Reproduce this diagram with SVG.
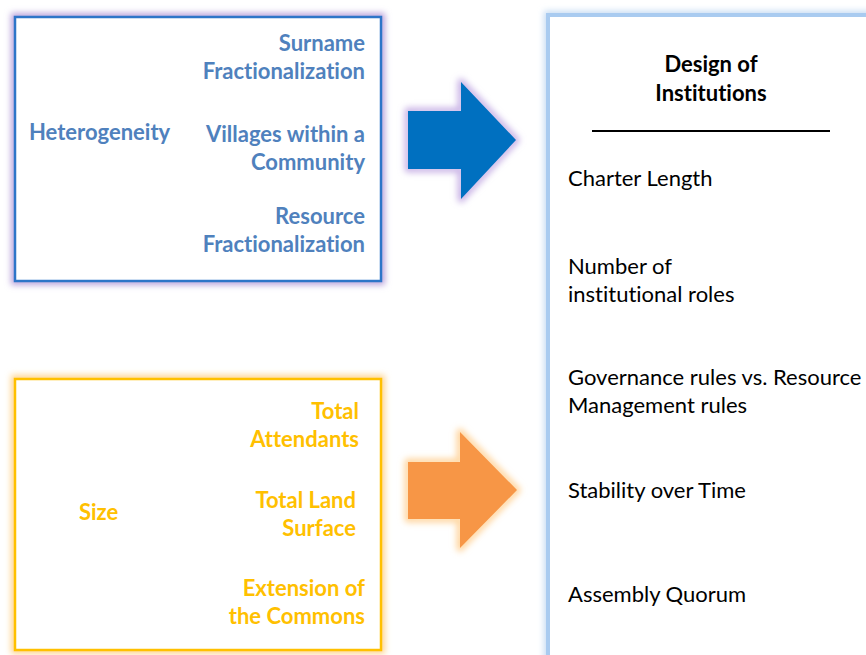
<svg xmlns="http://www.w3.org/2000/svg" width="866" height="655" viewBox="0 0 866 655">
<defs>
<filter id="glow" x="-20%" y="-20%" width="140%" height="140%"><feGaussianBlur stdDeviation="3"/></filter>
</defs>
<style>
text{font-variant-ligatures:none}
.b{font-family:Lato,"Liberation Sans",sans-serif;font-weight:bold;font-size:22px}
.blue{fill:#4F81BD}
.gold{fill:#FFC000}
.r{font-family:Lato,"Liberation Sans",sans-serif;font-size:22px;fill:#000}
.t{font-family:Lato,"Liberation Sans",sans-serif;font-weight:bold;font-size:22px;fill:#000}
</style>
<rect width="866" height="655" fill="#fff"/>
<g id="heterogeneity">
<rect x="15" y="17" width="366" height="264" fill="none" stroke="#B9A3DC" stroke-width="8" filter="url(#glow)"/>
<rect x="15" y="17" width="366" height="264" fill="#fff" stroke="#2E75C8" stroke-width="2.5"/>
<text class="b blue" x="29" y="140">Heterogeneity</text>
<g text-anchor="end">
<text class="b blue" x="365" y="51">Surname</text>
<text class="b blue" x="365" y="79">Fractionalization</text>
<text class="b blue" x="365" y="142">Villages within a</text>
<text class="b blue" x="365" y="170">Community</text>
<text class="b blue" x="365" y="224">Resource</text>
<text class="b blue" x="365" y="252">Fractionalization</text>
</g>
</g>
<g id="size">
<rect x="15" y="379" width="366" height="271" fill="none" stroke="#FFD591" stroke-width="8" filter="url(#glow)"/>
<rect x="15" y="379" width="366" height="271" fill="#fff" stroke="#FFC000" stroke-width="2.5"/>
<text class="b gold" x="79" y="520">Size</text>
<g text-anchor="end">
<text class="b gold" x="359" y="419">Total</text>
<text class="b gold" x="359" y="447">Attendants</text>
<text class="b gold" x="356" y="508">Total Land</text>
<text class="b gold" x="356" y="536">Surface</text>
<text class="b gold" x="365" y="596">Extension of</text>
<text class="b gold" x="365" y="624">the Commons</text>
</g>
</g>
<g id="connectors">
<polygon points="408,111 461,111 461,82 516,140 461,199 461,169 408,169" fill="none" stroke="#C9B3E6" stroke-width="7" stroke-linejoin="round" filter="url(#glow)"/>
<polygon points="408,111 461,111 461,82 516,140 461,199 461,169 408,169" fill="#0070C0"/>
<polygon points="408,462 460,462 460,432 517,490 460,548 460,519 408,519" fill="none" stroke="#FFD59E" stroke-width="7" stroke-linejoin="round" filter="url(#glow)"/>
<polygon points="408,462 460,462 460,432 517,490 460,548 460,519 408,519" fill="#F79646"/>
</g>
<g id="design">
<rect x="548" y="15" width="330" height="660" fill="none" stroke="#C5DBF3" stroke-width="8" filter="url(#glow)"/>
<rect x="548" y="15" width="330" height="660" fill="#fff" stroke="#A9CBF0" stroke-width="4"/>
<text class="t" x="711" y="72" text-anchor="middle">Design of</text>
<text class="t" x="711" y="101" text-anchor="middle">Institutions</text>
<line x1="592" y1="131" x2="830" y2="131" stroke="#000" stroke-width="2"/>
<text class="r" x="568" y="186">Charter Length</text>
<text class="r" x="568" y="274">Number of</text>
<text class="r" x="568" y="302">institutional roles</text>
<text class="r" x="568" y="385">Governance rules vs. Resource</text>
<text class="r" x="568" y="413">Management rules</text>
<text class="r" x="568" y="498">Stability over Time</text>
<text class="r" x="568" y="602">Assembly Quorum</text>
</g>
</svg>
